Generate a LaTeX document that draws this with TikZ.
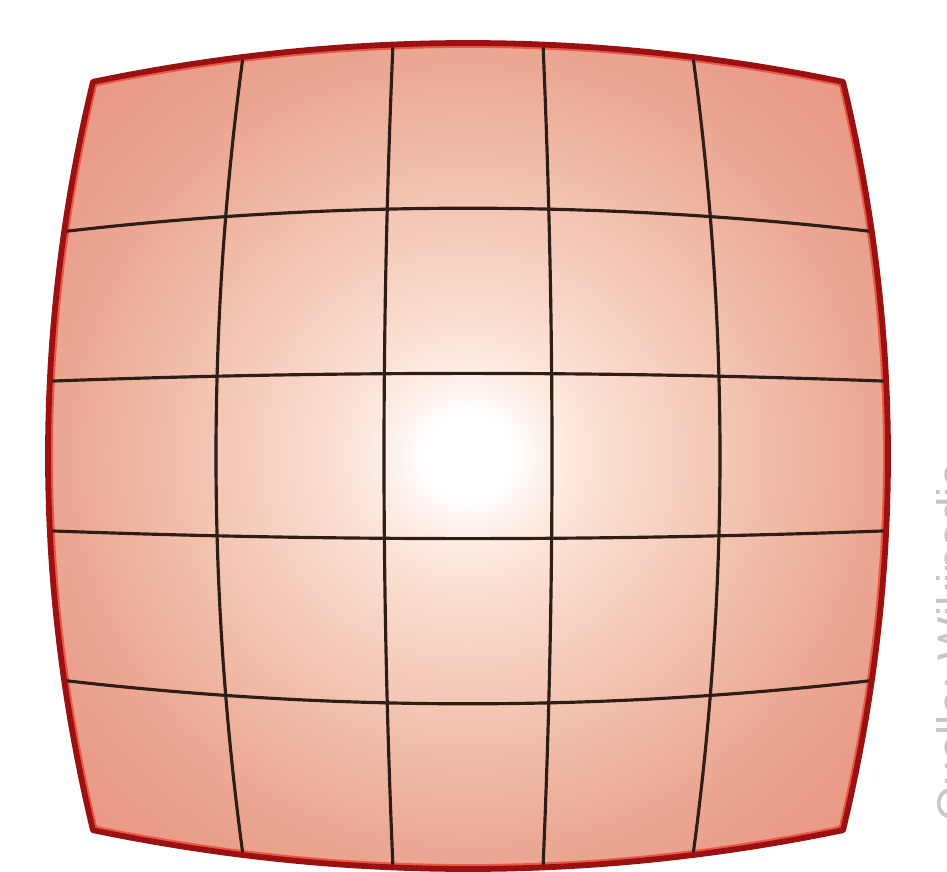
\documentclass[tikz,border=0pt]{standalone}
\usepackage{fontspec}
\newfontfamily\srcfont{Liberation Sans}

\definecolor{lensrim}{RGB}{155,16,16}
\definecolor{lensglint}{RGB}{236,88,72}
\definecolor{gridink}{RGB}{48,30,22}
\definecolor{srcgray}{RGB}{198,198,198}
\definecolor{glowA}{RGB}{253,232,222}
\definecolor{glowB}{RGB}{249,216,202}
\definecolor{glowC}{RGB}{244,199,182}
\definecolor{glowD}{RGB}{239,184,164}
\definecolor{glowE}{RGB}{235,168,148}
\definecolor{glowF}{RGB}{233,159,139}
\definecolor{glowG}{RGB}{232,151,131}

\pgfdeclareradialshading{lensglow}{\pgfpoint{0bp}{0bp}}{%
  color(0bp)=(white); color(2.5bp)=(white); color(6bp)=(glowA);
  color(10bp)=(glowB); color(15bp)=(glowC); color(19.5bp)=(glowD);
  color(24bp)=(glowE); color(28bp)=(glowF); color(33bp)=(glowG);
  color(50bp)=(glowG)}

\newcommand{\lensoutline}{%
  plot[domain=-1:1,samples=41,variable=\u] ({lx(\u,-1)},{ly(\u,-1)})
  -- plot[domain=-1:1,samples=41,variable=\v] ({lx(1,\v)},{ly(1,\v)})
  -- plot[domain=1:-1,samples=41,variable=\u] ({lx(\u,1)},{ly(\u,1)})
  -- plot[domain=1:-1,samples=41,variable=\v] ({lx(-1,\v)},{ly(-1,\v)})
  -- cycle}

\begin{document}
\begin{tikzpicture}[x=0.02cm,y=-0.02cm,
  declare function={lx(\u,\v)=468+420*(\u)*(1-0.107*(\v)*(\v));
                    ly(\u,\v)=456+413*(\v)*(1-0.094*(\u)*(\u));},
  gridline/.style={draw=gridink, line width=1.8pt},
  rim/.style={draw=lensrim, line width=3.3pt, line join=round},
  lbl/.style={font=\srcfont\fontsize{26}{30}\selectfont, text=srcgray, inner sep=0pt}]
  \useasboundingbox (0,0) rectangle (947,872);
  \shade[shading=lensglow] \lensoutline;
  \begin{scope}
    \clip \lensoutline;
    \draw[draw=lensglint, line width=5.6pt] \lensoutline;
  \end{scope}
  \foreach \t in {-0.6,-0.2,0.2,0.6}{
    \draw[gridline] plot[domain=-1:1,samples=41,variable=\u] ({lx(\u,\t)},{ly(\u,\t)});
    \draw[gridline] plot[domain=-1:1,samples=41,variable=\v] ({lx(\t,\v)},{ly(\t,\v)});
  }
  \draw[rim] \lensoutline;
  \node[lbl, rotate=90, anchor=base west] (src) at (969,822) {Quelle: Wikipedia};
\end{tikzpicture}
\end{document}
